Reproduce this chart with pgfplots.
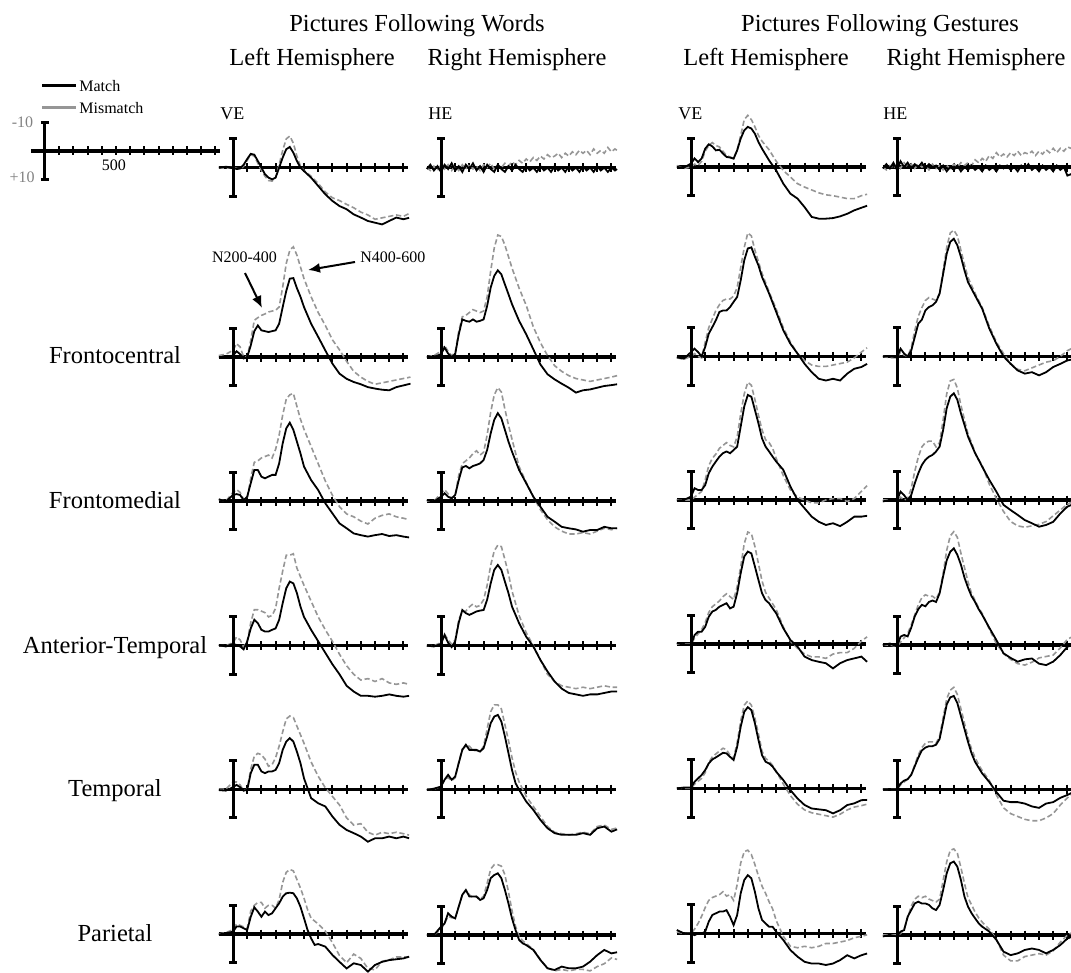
\documentclass[border=0pt]{standalone}
\usepackage{fontspec}
\setmainfont{Liberation Serif}
\usepackage{pgfplots}
\pgfplotsset{compat=1.18}
\usepackage{pgfplotstable}
\usetikzlibrary{arrows.meta}
\definecolor{mmgray}{RGB}{150,150,150}
\definecolor{lblgray}{RGB}{130,130,130}

% ---------- data: t (ms), m = Match (uV), mm = Mismatch (uV); negative up ----------
% Row A: VE / HE
\pgfplotstableread{
t m mm
-100 0 0
-50 -0.3 0.3
0 0 -0.3
25 0.5 0.3
50 0.3 0.5
75 -1 -0.5
100 -3 -2.5
125 -4.8 -4.5
150 -4.5 -4
175 -2.3 -1.5
200 0 1
225 2.3 3
250 3.5 4.5
275 4.1 4.7
300 3.5 3.5
325 0 -1
350 -3.5 -6
375 -6.4 -10
400 -7.2 -11
425 -5.2 -8.5
450 -2.3 -4
475 0 -0.5
500 1.2 1
550 3.5 3
600 6.4 5.5
650 9.3 8.5
700 11.6 10.5
750 13.4 11.5
800 14.5 12.8
850 16.3 14
900 17.4 15.5
950 18.6 16.5
1000 19.2 18
1050 19.8 17.5
1100 18.6 17
1150 17.4 16.5
1200 18 17
1240 17.5 16
}\dAa
\pgfplotstableread{
t m mm
-100 0.5 0
-75 -1 1
-50 1 -0.5
-25 -0.5 1
0 1.5 -1
25 -1 0.5
50 0.5 -1
75 -1.5 1
100 1 -0.5
125 -0.5 1
150 1.5 -1
175 -1 0.5
200 0.5 -1
225 -1.5 0.5
250 1 -0.5
275 -0.5 1
300 1.5 -1
325 -1 0
350 0.5 -1.5
375 1.5 0.5
400 -1 -1
425 0.5 0
450 1.5 -1.5
475 -0.5 -0.5
500 1 -2
525 -1 -1
550 0.5 -2.5
575 1.5 -1.5
600 -0.5 -3
625 1 -2
650 0 -3.5
675 1.5 -2.5
700 -0.5 -4
725 1 -3
750 0 -4.5
775 1.5 -3.5
800 -0.5 -4
825 1 -5
850 0 -3.5
875 1.5 -5
900 -0.5 -4
925 1 -5.5
950 0 -4.5
975 1.5 -6
1000 -0.5 -5
1025 1 -6
1050 0 -4.5
1075 1.5 -6.5
1100 -0.5 -5
1125 1 -6
1150 0 -5
1175 1.5 -7
1200 0 -5.5
1225 1 -6.5
1240 0.5 -6
}\dAb
\pgfplotstableread{
t m mm
-100 0 -0.5
-50 0.2 0.5
0 -1.2 0
25 -3 -1
50 -1.7 -0.5
75 -3 -2
100 -6.4 -5.5
125 -7.9 -7.5
150 -7.2 -8.5
175 -5.8 -7.5
200 -6 -7
225 -4.7 -5.5
250 -3.5 -4
275 -3.3 -3.5
300 -2.9 -3
325 -5.8 -6
350 -9.9 -11
375 -12.8 -16.5
400 -14 -18
425 -13.4 -16.5
450 -11.6 -14
475 -8.7 -11
500 -6.4 -9
550 -2.3 -6
600 1.2 -2
650 5.8 1.2
700 9.3 3.5
750 11 5.8
800 14 7
850 17.4 8
900 18 9
950 18 9.7
1000 17.8 10
1050 17.2 10.5
1100 16.3 11
1150 15.1 11
1200 14.2 10
1240 13.5 9.5
}\dAc
\pgfplotstableread{
t m mm
-100 0.5 0
-75 -1 1
-50 0.5 -0.5
-25 -1.5 0.5
0 1 -1
25 -2 0.5
50 0 -1.5
75 -1.5 0
100 0.5 -1
125 -1 0.5
150 0 -1
175 -1.5 0
200 0.5 -0.5
225 -1 1
250 0 -1
275 -0.5 0.5
300 1 -0.5
325 -0.5 1
350 1.5 -0.5
375 0 0.5
400 1 -1
425 -0.5 0
450 1.5 -1.5
475 0 -0.5
500 1 -1.5
525 -0.5 -0.5
550 1 -2.5
575 0 -1.5
600 1.5 -3
625 -0.5 -2
650 1 -4
675 0 -3
700 1.5 -5
725 -0.5 -3.5
750 0.5 -4.5
775 -0.5 -3.5
800 1 -5
825 0 -4
850 1.5 -5.5
875 -0.5 -4
900 0.5 -5
925 -1 -4.5
950 1 -5.5
975 0 -4
1000 1.5 -5.5
1025 -0.5 -4.5
1050 1 -6
1075 0 -5
1100 1.5 -6.5
1125 -0.5 -5
1150 1 -6.5
1175 0 -5.5
1200 3 -7
1225 2.5 -6.5
1240 3.5 -7.5
}\dAd
% Row B: Frontocentral
\pgfplotstableread{
t m mm
-100 0 -0.5
-50 0 -1
0 -0.5 -2.3
25 -2 -4.7
50 -1 -3.5
75 0.5 0
100 0 0
125 -4 -5.8
150 -9 -12.8
175 -11 -13.7
200 -9.3 -14.5
225 -9 -15
250 -8.7 -15.7
275 -9 -16
300 -9.3 -16.3
325 -11.6 -17.4
350 -17.4 -24.4
375 -23 -32.6
400 -27.3 -37.2
425 -27.5 -38.4
450 -24 -35.5
475 -21 -31.4
500 -17.4 -27.3
550 -11.6 -21
600 -7 -15.5
650 -2.3 -11
700 2.3 -6
750 5.8 -2.5
800 7.6 1.5
850 8.7 5
900 9.5 7
950 10.5 8.5
1000 11 9.5
1050 11.4 9
1100 11.6 8.5
1150 10.5 8
1200 9.9 7.5
1250 9.3 7
}\dBa
\pgfplotstableread{
t m mm
-100 0 0
-50 0 -0.5
0 -1 -2
25 -3.3 -4
50 -1.2 -2
75 0 -0.5
100 -1 -1.5
125 -7.9 -9
150 -13.1 -14
175 -12.6 -14.5
200 -12.3 -15.5
225 -13.1 -16.5
250 -12.3 -16
275 -12.6 -15.5
300 -13.1 -16
325 -17.8 -21
350 -24.2 -30
375 -28.3 -38
400 -30.2 -42.5
425 -28.8 -42
450 -25.3 -39
475 -21.9 -35
500 -18.4 -31
550 -12.6 -24
600 -7.9 -18
650 -2.7 -10.5
700 2.6 -5
750 6 -0.5
800 7.8 3
850 9.3 5
900 10.7 6.5
950 12.4 7.5
1000 11.6 8
1050 11.3 8.5
1100 10.7 8
1150 10.1 7.5
1200 9.8 7
1240 9.5 6.5
}\dBb
\pgfplotstableread{
t m mm
-100 0.3 0.5
-50 0.8 1
0 -1.5 0
25 -2.7 -1
50 -1.5 0
75 0 0.5
100 -3.3 -5
125 -7.9 -10
150 -10.2 -13
175 -12.6 -16
200 -15.5 -18
225 -16 -19.5
250 -16 -20
275 -17.2 -20
300 -19 -21
325 -20.7 -24
350 -26.5 -31
375 -33.5 -38
400 -37.6 -43
425 -38 -42
450 -34.7 -37
475 -31.7 -33
500 -27.7 -29
550 -21.9 -22.5
600 -15.5 -16.5
650 -9.1 -10
700 -4.4 -5
750 -1 -1
800 2.6 1.5
850 5.5 3
900 7.8 3.5
950 8.4 3.5
1000 7.8 3
1050 8.4 2.5
1100 6 2
1150 4.3 0.5
1200 3.7 -1.5
1240 2.6 -3
}\dBc
\pgfplotstableread{
t m mm
-100 0 0
-50 0 0.5
0 0.3 0.5
25 -2.7 -1.5
50 -1 -0.5
75 0 0
100 -2 -3
125 -6.7 -9
150 -11.4 -14
175 -12.8 -17
200 -16 -19.5
225 -17.2 -20.5
250 -17.8 -20
275 -19 -19.5
300 -21.9 -22
325 -28.8 -30
350 -35.8 -38
375 -39.9 -43
400 -41 -44
425 -38.7 -42
450 -34.7 -37
475 -30 -32
500 -25.9 -27.5
550 -21.2 -22
600 -16.6 -17
650 -9.7 -10.5
700 -4.4 -5
750 0 -1
800 2.6 2.5
850 4.9 4.5
900 6 5
950 5.5 4
1000 6.6 3
1050 5.5 2
1100 3.7 1.5
1150 2.6 0
1200 1.4 -2
1240 1 -3
}\dBd
% Row C: Frontomedial
\pgfplotstableread{
t m mm
-100 -0.6 -0.5
-50 0.2 0
0 -2.1 -3
25 -2.4 -4
50 -2.1 -3
75 -0.3 -0.5
100 -1.5 -1
125 -6.2 -8
150 -10.8 -13.5
175 -10.8 -14
200 -8.5 -15
225 -7.9 -15.5
250 -8.5 -16
275 -9.1 -15
300 -9.1 -18
325 -13.1 -23
350 -20.1 -30
375 -25.3 -35.5
400 -27.3 -37
425 -24.8 -37.5
450 -20.7 -33
475 -16.6 -28.5
500 -12 -25
550 -7.3 -19
600 -3.8 -13
650 0.8 -7
700 4.3 -2
750 7.8 2
800 9.5 4.5
850 11.3 5.5
900 11.9 7
950 12.4 8
1000 11.9 6
1050 11.5 5
1100 12.2 4.5
1150 11.9 5.5
1200 12.4 6
1240 12.7 6.5
}\dCa
\pgfplotstableread{
t m mm
-100 -0.3 0
-50 0.2 0
0 -1.5 -2.5
25 -2.7 -4
50 -1.5 -2.5
75 -0.9 -1
100 -2.1 -2
125 -7.3 -9
150 -11.7 -13
175 -12.2 -14
200 -11.4 -15
225 -12.2 -16.5
250 -12.6 -17.5
275 -13.1 -16
300 -14.3 -17
325 -17.8 -23
350 -23.6 -31
375 -28.3 -37
400 -30.6 -39.5
425 -28.8 -38
450 -24.8 -32
475 -20.7 -26.5
500 -17.2 -21.5
550 -10.8 -12
600 -6.2 -6.5
650 -1.5 -1.5
700 2 3
750 5.5 6.5
800 7.2 9
850 9 10.5
900 9.5 11.5
950 9.9 11.5
1000 10.7 11
1050 10.1 11.5
1100 10.1 10.5
1150 9 9.5
1200 9.5 10
1240 9.5 9.5
}\dCb
\pgfplotstableread{
t m mm
-100 0.2 0
-50 0 0
0 -1.2 0
25 -4.1 -1
50 -3.5 -2
75 -3.5 -3
100 -5.2 -7
125 -9.3 -12
150 -11.6 -14.5
175 -13.4 -16
200 -15.1 -18
225 -16.3 -19
250 -16.9 -20
275 -16.3 -19
300 -17.4 -18.5
325 -18.6 -22
350 -25.6 -30
375 -32.6 -37
400 -36.6 -41
425 -36 -40
450 -31.4 -35
475 -26.7 -29.5
500 -21.5 -24.5
525 -18.6 -21
550 -16.9 -20
575 -15.1 -18
600 -13.4 -14.5
650 -10.5 -8.5
700 -4.7 -3.5
750 0 -1
800 2.9 0
850 5.8 1
900 7.6 1
950 8.7 0
1000 8.1 -0.5
1050 9.1 -0.5
1100 7.6 0.5
1150 5.8 -0.5
1200 5.8 -3
1240 5.5 -5
}\dCc
\pgfplotstableread{
t m mm
-100 0.5 0
-50 0 0
0 0 0
25 -2.9 -1
50 -1.7 0
75 0 -0.5
100 -1.7 -4
125 -5.8 -10
150 -9.3 -15
175 -12.2 -18.5
200 -14 -20
225 -15.1 -20.5
250 -15.7 -20.5
275 -16.9 -18.5
300 -18.6 -20
325 -24.4 -28
350 -32 -37
375 -36 -41.5
400 -37.2 -42
425 -34.9 -39
450 -30.2 -33
475 -26.2 -28
500 -22.1 -23
525 -19.2 -20
550 -16.3 -16.5
575 -14 -14
600 -11.6 -12
650 -7 -5.5
700 -2.9 -0.5
750 1.7 4
800 3.5 7.5
850 5.2 9
900 7 9.5
950 8.1 9
1000 9.3 8.5
1050 8.7 7.5
1100 7.6 5.5
1150 4.7 3.5
1200 2.3 1.5
1240 1.5 0.5
}\dCd
% Row D: Anterior-Temporal
\pgfplotstableread{
t m mm
-100 -0.2 0
-50 0.3 0
0 -0.6 -1
25 -0.2 -3
50 0.3 -2
75 1.3 0.5
100 -1.4 -1.5
125 -6 -8
150 -9 -12.5
175 -7.8 -12.5
200 -5.5 -12
225 -4.9 -11.5
250 -4.9 -10
275 -5.5 -10.5
300 -6 -13
325 -9 -20
350 -14.8 -26
375 -20 -31.5
400 -22.3 -31.5
425 -21.7 -32
450 -18.3 -27
475 -13.6 -24
500 -10 -21
550 -5.5 -15.5
600 -1.5 -10
650 2.5 -5.5
700 6.5 -1.5
750 10 3
800 14 7
850 16 10
900 17.5 12
950 17.5 11.5
1000 17.8 12.5
1050 17.5 11.5
1100 17 13
1150 17.5 13.5
1200 17.8 13
1240 17.5 13.5
}\dDa
\pgfplotstableread{
t m mm
-100 0 0
-50 0.3 0
0 -0.6 -1
25 -3.7 -4
50 -1 -2
75 0.5 -0.5
100 -1.5 -2
125 -8 -9
150 -12.4 -12
175 -11.3 -12
200 -10.7 -13.5
225 -11.3 -14.5
250 -11.9 -13.5
275 -12.2 -14
300 -12.4 -16
325 -16 -21
350 -21.7 -28
375 -26.4 -33
400 -28.1 -35
425 -26.4 -34.5
450 -22.3 -30
475 -18.3 -25
500 -13.6 -19
550 -7.8 -10.5
600 -3.1 -4.5
650 0.3 0
700 5 5
750 9 10
800 12.5 12.5
850 15 14
900 16.5 14.5
950 17 15
1000 17.5 14.5
1050 17 15
1100 17 14.5
1150 16.5 14
1200 16 14.5
1240 16 14.5
}\dDb
\pgfplotstableread{
t m mm
-100 -0.3 0
-50 0.2 0
0 0.2 0
25 -3.1 -2
50 -4.3 -3.5
75 -4.3 -5
100 -6 -7.5
125 -9.5 -11
150 -11.3 -13
175 -11.9 -14
200 -13 -15
225 -13.6 -16.5
250 -14.2 -17.5
275 -12.4 -16.5
300 -13 -15.5
325 -17.7 -20
350 -24.7 -27
375 -30.5 -35
400 -32.2 -39
425 -31.6 -38.5
450 -27 -34
475 -22.3 -28
500 -17.7 -22
525 -15.3 -18
550 -14.2 -16
575 -12.4 -14
600 -10.7 -12
650 -5.5 -6
700 -1.4 -1
750 0.9 1.5
800 4.4 3.5
850 5.6 4.5
900 6.2 4.5
950 6.7 5
1000 8.5 3.5
1050 6.7 3
1100 5.6 3
1150 5 1.5
1200 4.4 -1
1240 6.2 -2.5
}\dDc
\pgfplotstableread{
t m mm
-100 0 0
-50 -0.5 0
0 0.5 0.5
25 -2.9 -1
50 -3.5 -2.5
75 -3 -4
100 -6 -7
125 -10 -10.5
150 -12.5 -14
175 -14 -16.5
200 -13.5 -17.5
225 -15 -17
250 -15.5 -17
275 -15 -16
300 -18 -18.5
325 -24 -25
350 -29.5 -33
375 -32.5 -38
400 -33.7 -39.5
425 -31.4 -37.5
450 -28 -32
475 -23.5 -27
500 -20 -22
525 -17 -18
550 -15 -15.5
575 -12.5 -13
600 -10.5 -11
650 -6 -5.5
700 -1.7 -0.5
750 2.9 3
800 4.5 5
850 5.8 6.5
900 5 7
950 4.7 6
1000 6.5 4.5
1050 7 4
1100 5.8 3.5
1150 3.5 1
1200 0.6 -2
1240 0 -3
}\dDd
% Row E: Temporal
\pgfplotstableread{
t m mm
-100 0.3 0
-50 0.5 0
0 -0.7 -2.5
25 -1.5 -2.5
50 -0.7 -1.5
75 0.5 0.5
100 0.2 0
125 -5.6 -7
150 -8.5 -11.5
175 -8.5 -12.5
200 -6.2 -12
225 -5.6 -10.5
250 -6.2 -8
275 -6.2 -8.5
300 -6.7 -11
325 -9.1 -15
350 -13.7 -20
375 -16.6 -24.5
400 -17.8 -25.5
425 -16.6 -25
450 -13.1 -22
475 -9.1 -19
500 -3.8 -16
550 3.1 -9.5
600 4.9 -4.5
650 6 -0.5
700 9.5 2.5
750 12.4 5.5
800 14.2 10
850 15.3 12.5
900 16.5 12
950 18.3 15
1000 17.1 16
1050 17.1 15
1100 16.5 15.5
1150 17.1 15
1200 16.5 15.5
1240 17.1 16
}\dEa
\pgfplotstableread{
t m mm
-100 0.3 0
-50 -0.2 0
0 -0.9 -1
25 -3.3 -3.5
50 -5 -4
75 -3.3 -3
100 -4.4 -4
125 -9.1 -9.5
150 -13.7 -14
175 -15.5 -15
200 -13.7 -15
225 -13.7 -13.5
250 -13.7 -13.5
275 -13.1 -13
300 -14.3 -15
325 -18.4 -21
350 -23 -27
375 -25.3 -29.4
400 -25.9 -29.4
425 -23.6 -28
450 -18.4 -22.5
475 -12.6 -17
500 -6.7 -11
525 -2.1 -6
550 0.2 -2.5
600 4.3 2.5
650 7.2 6
700 10.7 9.5
750 13.6 13
800 15.3 15
850 15.9 15.5
900 15.9 16
950 15.9 15.5
1000 15.3 15
1050 15.9 15.5
1100 13.6 13
1150 13 12.5
1200 14.8 14
1240 14 13.5
}\dEb
\pgfplotstableread{
t m mm
-100 0 0
-50 -0.3 0
0 -0.3 0
25 -2.3 -1.5
50 -3.5 -2.5
75 -4.7 -3.5
100 -6.4 -5.5
125 -8.7 -9
150 -10.1 -11
175 -10.8 -12
200 -11.6 -13
225 -12.4 -14
250 -12.2 -13.5
275 -11 -11.5
300 -9.9 -10.5
325 -14.5 -16
350 -21.5 -23.5
375 -26.7 -29
400 -28.3 -30.5
425 -27.3 -29
450 -22.7 -24.5
475 -16.9 -19
500 -11.6 -13
525 -9.3 -10.5
550 -8.7 -9.5
575 -7.6 -8
600 -5.8 -6
650 -2.9 -1.5
700 0.6 2.5
750 3.5 5.5
800 5.8 7.5
850 7 8.5
900 7.3 9
950 7.6 9.5
1000 8.7 10
1050 7.6 9
1100 5.8 7.5
1150 5.2 6.5
1200 4.1 6
1240 4 5.5
}\dEc
\pgfplotstableread{
t m mm
-100 0 0
-50 0 0
0 0 0
25 -2 -1.5
50 -3 -2.5
75 -3.5 -3.5
100 -5 -5
125 -8 -8.5
150 -11 -12
175 -13.5 -14.5
200 -14.5 -16
225 -15 -16.5
250 -15 -16.5
275 -15.5 -16
300 -17.5 -18.5
325 -23.5 -25
350 -29.5 -31.5
375 -32 -34.5
400 -32.5 -35.5
425 -30 -33
450 -25.5 -28
475 -21 -23
500 -16.5 -18
525 -12.5 -14
550 -9.5 -11
575 -7.5 -8.5
600 -5.5 -6.5
650 -2.5 -3
700 1 2
750 4 6.5
800 4.5 8.5
850 4.5 9.5
900 5 10.5
950 6 11
1000 6.5 11
1050 5 10
1100 4.5 8.5
1150 3 5.5
1200 2 3
1240 1 1.5
}\dEd
% Row F: Parietal
\pgfplotstableread{
t m mm
-100 0.2 0
-50 -0.3 -0.5
0 -0.8 -1.5
25 -2.6 -3.5
50 -2.6 -3
75 -2 -2.5
100 -1.4 -2
125 -6 -8
150 -9.3 -10
175 -7.8 -11
200 -6 -11
225 -7.8 -9
250 -6.6 -10
275 -7.2 -10
300 -9 -9
325 -10.7 -12
350 -13 -18
375 -14.2 -21.5
400 -14.4 -22.5
425 -14.2 -22
450 -12.4 -19
475 -9.5 -16
500 -5.5 -12.5
525 -1.4 -8.5
550 1.5 -5.5
575 3.8 -4.5
600 3.5 -3.5
650 4.4 -1
700 7.3 3
750 9.7 7.5
800 12 10
850 10.2 7
900 10.8 8.5
950 13.1 12
1000 10.8 12.5
1050 9.7 9.5
1100 9.1 9
1150 8.8 8
1200 8.5 8
1240 7.9 8
}\dFa
\pgfplotstableread{
t m mm
-100 0 0
-50 0 0
0 -2.9 -2
25 -4 -4
50 -7.6 -6.5
75 -6.4 -6
100 -5.8 -6
125 -9.9 -10
150 -14 -14
175 -15.7 -15.5
200 -13.4 -14
225 -13.4 -13
250 -13.4 -13.5
275 -12.2 -12.5
300 -12.8 -13.5
325 -15.7 -18
350 -19.8 -23
375 -20.9 -24.5
400 -21.5 -24.5
425 -19.8 -24
450 -15.7 -21
475 -11 -15
500 -5.8 -8.5
525 -1.7 -3
550 1.7 0.5
575 2.9 2
600 3.5 3
650 5.2 5
700 8.7 8.5
750 11.6 11.5
800 12.2 12.5
850 11 12
900 11.6 12.5
950 11.6 12
1000 11 12
1050 9.3 12.5
1100 7 11
1150 5.2 10
1200 6.4 8
1240 6 8.5
}\dFb
\pgfplotstableread{
t m mm
-100 -1.2 -0.5
-50 0 0
0 0.2 0
25 0.6 -1.5
50 0 -3.5
75 0 -6
100 -0.6 -9
125 -4.1 -11.5
150 -6.4 -12.5
175 -7 -13
200 -7.6 -13.5
225 -7.6 -14.5
250 -8.1 -13
275 -5.8 -13.5
300 -2.9 -11.5
325 -6.4 -17
350 -14 -24.5
375 -18.6 -28.5
400 -20.3 -29
425 -19.2 -27.5
450 -14.5 -24
475 -8.7 -20
500 -4.7 -16.5
525 -3.5 -14
550 -2.3 -11
575 -2.3 -8.5
600 -0.6 -4.5
650 2.3 1
700 5.8 4.5
750 8.1 5
800 9.9 4.5
850 10.5 5
900 10.5 4.5
950 11 3.5
1000 10.5 3.5
1050 9.3 3
1100 7.6 2.5
1150 8.7 1.5
1200 7.6 1
1240 7 0.5
}\dFc
\pgfplotstableread{
t m mm
-100 0.5 0
-50 0 0
0 0.5 0
25 -1.2 -0.5
50 -1.7 -2
75 -6.4 -6
100 -8.7 -10
125 -11 -12.5
150 -11.6 -13.5
175 -11 -13
200 -11 -13.5
225 -10.5 -12.5
250 -9.3 -12
275 -8.7 -11.5
300 -10.5 -12.5
325 -15.7 -19
350 -21.5 -25.5
375 -25 -29.5
400 -25.6 -30
425 -23.8 -28.5
450 -19.2 -23.5
475 -13.4 -18
500 -9.9 -13
525 -7.6 -10.5
550 -5.8 -8
575 -4.1 -6
600 -2.9 -4.5
650 -1.2 -2
700 1.7 1.5
750 5.8 7
800 7 9
850 6.4 9
900 5.2 7.5
950 4.7 7
1000 5.2 6.5
1050 6.4 7
1100 5.2 5.5
1150 3.5 2.5
1200 1.2 0
1240 0.5 -1
}\dFd

\pgfplotsset{
  erp/.style={
    anchor=origin, x=0.071pt, y=1.435pt, y dir=reverse,
    xmin=-100, xmax=1230, ymin=-46, ymax=22,
    axis x line=middle, axis y line=none,
    x axis line style={-, line width=1.6pt},
    xtick={100,200,...,1200}, xticklabels={},
    major tick length=4.5pt, tick align=center,
    tick style={line width=1pt, black},
    clip=false,
  },
  match/.style={black, line width=0.9pt, no markers},
  mism/.style={mmgray, line width=0.8pt, dash pattern=on 2.6pt off 1.4pt, no markers},
  sbar/.style={black, line width=1.5pt, mark=-, mark size=1.8pt, mark options={solid, line width=1.5pt}},
}

\newcommand{\erppanel}[3]{%
  \begin{axis}[erp, at={(#1,#2)}]
    \addplot[mism] table[x=t,y=mm] {#3};
    \addplot[match] table[x=t,y=m] {#3};
    \addplot[sbar] coordinates {(0,-10) (0,10)};
  \end{axis}}

\begin{document}
\begin{tikzpicture}
\useasboundingbox (0,0) rectangle (535.5pt,-486.5pt);

% column headers
\def\hfont{\fontsize{12.25}{14}\selectfont}
\node[anchor=base, inner sep=0pt] at (208.5pt,-16pt) {\hfont Pictures Following Words};
\node[anchor=base, inner sep=0pt] at (440pt,-16pt) {\hfont Pictures Following Gestures};
\node[anchor=base, inner sep=0pt] at (156pt,-33pt) {\hfont Left Hemisphere};
\node[anchor=base, inner sep=0pt] at (258.5pt,-33pt) {\hfont Right Hemisphere};
\node[anchor=base, inner sep=0pt] at (383pt,-33pt) {\hfont Left Hemisphere};
\node[anchor=base, inner sep=0pt] at (488pt,-33pt) {\hfont Right Hemisphere};

% row labels
\node[anchor=base, inner sep=0pt] at (57.5pt,-182pt) {\hfont Frontocentral};
\node[anchor=base, inner sep=0pt] at (57.5pt,-254pt) {\hfont Frontomedial};
\node[anchor=base, inner sep=0pt] at (57.5pt,-326.5pt) {\hfont Anterior-Temporal};
\node[anchor=base, inner sep=0pt] at (57.5pt,-398pt) {\hfont Temporal};
\node[anchor=base, inner sep=0pt] at (57.5pt,-470.5pt) {\hfont Parietal};

% VE / HE labels
\def\sfont{\fontsize{9}{10}\selectfont}
\node[anchor=base west, inner sep=0pt] at (110pt,-60pt) {\sfont VE};
\node[anchor=base west, inner sep=0pt] at (214pt,-60pt) {\sfont HE};
\node[anchor=base west, inner sep=0pt] at (339pt,-60pt) {\sfont VE};
\node[anchor=base west, inner sep=0pt] at (441.5pt,-60pt) {\sfont HE};

% legend
\def\lfont{\fontsize{8}{9}\selectfont}
\draw[black, line width=1.5pt] (21pt,-43pt) -- (38pt,-43pt);
\draw[mmgray, line width=1.5pt] (21pt,-54pt) -- (38pt,-54pt);
\node[anchor=west, inner sep=0pt] at (39.5pt,-43pt) {\lfont Match};
\node[anchor=west, inner sep=0pt] at (39.5pt,-54pt) {\lfont Mismatch};

% scale panel
\begin{axis}[erp, at={(22.5pt,-75.5pt)}]
  \addplot[sbar] coordinates {(0,-10) (0,10)};
  \node[anchor=east, inner sep=0pt, text=lblgray] at (axis cs:-80,-10) {\lfont -10};
  \node[anchor=east, inner sep=0pt, text=lblgray] at (axis cs:-70,9) {\lfont +10};
  \node[inner sep=0pt] at (axis cs:485,5) {\lfont 500};
\end{axis}

% panels
\erppanel{116.5pt}{-83.8pt}{\dAa}
\erppanel{220.5pt}{-83.8pt}{\dAb}
\erppanel{345.5pt}{-83.5pt}{\dAc}
\erppanel{448.5pt}{-83.5pt}{\dAd}

\erppanel{116.5pt}{-178.5pt}{\dBa}
\erppanel{220.5pt}{-178.5pt}{\dBb}
\erppanel{345.5pt}{-178.2pt}{\dBc}
\erppanel{448.5pt}{-178.2pt}{\dBd}

\erppanel{116.5pt}{-250.5pt}{\dCa}
\erppanel{220.5pt}{-250.5pt}{\dCb}
\erppanel{345.5pt}{-250pt}{\dCc}
\erppanel{448.5pt}{-250pt}{\dCd}

\erppanel{116.5pt}{-322.8pt}{\dDa}
\erppanel{220.5pt}{-322.8pt}{\dDb}
\erppanel{345.5pt}{-322pt}{\dDc}
\erppanel{448.5pt}{-322.5pt}{\dDd}

\erppanel{116.5pt}{-394.6pt}{\dEa}
\erppanel{220.5pt}{-394.6pt}{\dEb}
\erppanel{345.5pt}{-394.2pt}{\dEc}
\erppanel{448.5pt}{-394.6pt}{\dEd}

\erppanel{116.5pt}{-467pt}{\dFa}
\erppanel{220.5pt}{-467.5pt}{\dFb}
\erppanel{345.5pt}{-466.7pt}{\dFc}
\erppanel{448.5pt}{-467.5pt}{\dFd}

% annotations
\node[anchor=center, inner sep=0pt] at (122.25pt,-128.5pt) {\lfont N200-400};
\node[anchor=west, inner sep=0pt] at (180pt,-128.5pt) {\lfont N400-600};
\draw[line width=1pt, -{Latex[length=6pt, width=5pt]}] (122.5pt,-136.5pt) -- (131pt,-154pt);
\draw[line width=1pt, -{Latex[length=6pt, width=5pt]}] (177.5pt,-131pt) -- (154pt,-135pt);
\end{tikzpicture}
\end{document}
